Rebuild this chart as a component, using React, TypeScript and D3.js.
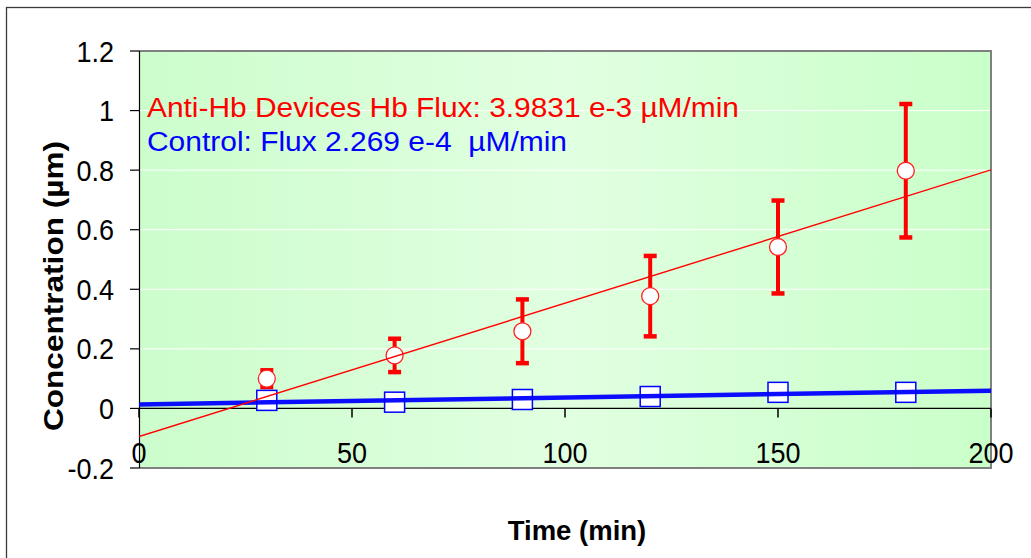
import React from 'react';
import * as d3 from 'd3';

// Sampling times (min)
const times = [30, 60, 90, 120, 150, 180];
// Anti-Hb device: mean concentration and error (µm)
const antiHbMean = [0.1, 0.178, 0.259, 0.377, 0.542, 0.798];
const antiHbErr = [0.028, 0.056, 0.107, 0.135, 0.156, 0.224];
// Control: mean concentration (µm)
const controlMean = [0.027, 0.021, 0.03, 0.04, 0.054, 0.054];

const xTicks = [0, 50, 100, 150, 200];
const yTicks = [-0.2, 0, 0.2, 0.4, 0.6, 0.8, 1, 1.2];
const yTickLabels = ['-0.2', '0', '0.2', '0.4', '0.6', '0.8', '1', '1.2'];

const antiHbLabel = 'Anti-Hb Devices Hb Flux: 3.9831 e-3 \u00B5M/min';
const controlLabel = 'Control: Flux 2.269 e-4  \u00B5M/min';
const xTitle = 'Time (min)';
const yTitle = 'Concentration (\u00B5m)';

const W = 1031;
const H = 558;
const plot = { left: 139, right: 991, top: 51, bottom: 468 };
const FONT = '"Liberation Sans", Arial, Helvetica, sans-serif';

// Ordinary least-squares fit y = a + b x
function linearFit(xs: number[], ys: number[]) {
  const mx = d3.mean(xs) as number;
  const my = d3.mean(ys) as number;
  let sxy = 0;
  let sxx = 0;
  xs.forEach((x, i) => {
    sxy += (x - mx) * (ys[i] - my);
    sxx += (x - mx) * (x - mx);
  });
  const b = sxy / sxx;
  return { a: my - b * mx, b };
}

export default function App() {
  const x = d3.scaleLinear().domain([0, 200]).range([plot.left, plot.right]);
  const y = d3.scaleLinear().domain([-0.2, 1.2]).range([plot.bottom, plot.top]);

  const redFit = linearFit(times, antiHbMean);
  const blueFit = linearFit(times, controlMean);
  const fitLine = (f: { a: number; b: number }) =>
    d3
      .line<number>()
      .x((t) => x(t))
      .y((t) => y(f.a + f.b * t))(x.domain()) as string;

  const sq = 20;
  const capW = 13;
  const capH = 4.5;

  return (
    <svg
      width={W}
      height={H}
      style={{ position: 'absolute', left: 0, top: 0, display: 'block' }}
      fontFamily={FONT}
    >
      <defs>
        <linearGradient id="plotBg" x1="0" y1="0" x2="1" y2="0">
          <stop offset="0" stopColor="#ccfdcc" />
          <stop offset="0.5" stopColor="#e1ffe1" />
          <stop offset="1" stopColor="#c9ffc9" />
        </linearGradient>
        <clipPath id="plotClip">
          <rect x={plot.left} y={plot.top} width={plot.right - plot.left} height={plot.bottom - plot.top} />
        </clipPath>
      </defs>

      <rect x={0} y={0} width={W} height={H} fill="#ffffff" />
      {/* chart frame */}
      <rect x={6.5} y={7.5} width={1100} height={700} fill="none" stroke="#3a3a3a" strokeWidth={1.3} />

      {/* plot area */}
      <rect
        x={plot.left}
        y={plot.top}
        width={plot.right - plot.left}
        height={plot.bottom - plot.top}
        fill="url(#plotBg)"
      />

      {/* gridlines */}
      {yTicks
        .filter((v) => v !== 0 && v !== -0.2 && v !== 1.2)
        .map((v) => (
          <line key={`g${v}`} x1={plot.left} x2={plot.right} y1={y(v)} y2={y(v)} stroke="#ffffff" strokeWidth={1} />
        ))}

      {/* plot border (top, right, bottom) */}
      <path
        d={`M${plot.left},${plot.top}H${plot.right}V${plot.bottom}H${plot.left}`}
        fill="none"
        stroke="#808080"
        strokeWidth={2}
      />

      {/* y axis */}
      <line x1={plot.left + 0.5} x2={plot.left + 0.5} y1={plot.top} y2={plot.bottom} stroke="#000" strokeWidth={1.2} />
      {yTicks.map((v, i) => (
        <g key={`yt${v}`}>
          <line x1={plot.left - 9} x2={plot.left} y1={y(v)} y2={y(v)} stroke="#000" strokeWidth={1.2} />
          <text
            transform={`translate(114,${y(v) + 10.5}) scale(1,1.09)`}
            textAnchor="end"
            fontSize={27}
            fill="#000"
          >
            {yTickLabels[i]}
          </text>
        </g>
      ))}

      {/* x axis at y = 0 */}
      <line x1={plot.left} x2={plot.right} y1={y(0)} y2={y(0)} stroke="#000" strokeWidth={1.2} />
      {xTicks.map((t) => (
        <g key={`xt${t}`}>
          <line x1={x(t)} x2={x(t)} y1={y(0)} y2={y(0) + 9} stroke="#000" strokeWidth={1.5} />
          <text transform={`translate(${x(t)},463) scale(1,1.09)`} textAnchor="middle" fontSize={27} fill="#000">
            {t}
          </text>
        </g>
      ))}

      <g clipPath="url(#plotClip)">
        {/* error bars */}
        {times.map((t, i) => {
          const hi = antiHbMean[i] + antiHbErr[i];
          const lo = antiHbMean[i] - antiHbErr[i];
          return (
            <g key={`eb${t}`} fill="#ff0000">
              <line x1={x(t)} x2={x(t)} y1={y(hi)} y2={y(lo)} stroke="#ff0000" strokeWidth={4} />
              <rect x={x(t) - capW / 2} y={y(hi) - capH / 2} width={capW} height={capH} />
              <rect x={x(t) - capW / 2} y={y(lo) - capH / 2} width={capW} height={capH} />
            </g>
          );
        })}

        {/* control markers */}
        {times.map((t, i) => (
          <rect
            key={`sq${t}`}
            x={x(t) - sq / 2}
            y={y(controlMean[i]) - sq / 2}
            width={sq}
            height={sq}
            fill="#ffffff"
            stroke="#0000ff"
            strokeWidth={1.5}
          />
        ))}

        {/* anti-Hb markers */}
        {times.map((t, i) => (
          <circle key={`c${t}`} cx={x(t)} cy={y(antiHbMean[i])} r={8.5} fill="#ffffff" stroke="#ff2020" strokeWidth={1.3} />
        ))}

        {/* linear trendlines */}
        <path d={fitLine(blueFit)} fill="none" stroke="#0000ff" strokeWidth={4.5} opacity={0.95} />
        <path d={fitLine(redFit)} fill="none" stroke="#ff0000" strokeWidth={1.4} />
      </g>

      {/* series annotations */}
      <text x={147} y={117} fontSize={27} fill="#ff0000" textLength={592} lengthAdjust="spacingAndGlyphs">
        {antiHbLabel}
      </text>
      <text
        x={147}
        y={151}
        fontSize={27}
        fill="#0000ff"
        textLength={420}
        lengthAdjust="spacingAndGlyphs"
        style={{ whiteSpace: 'pre' }}
      >
        {controlLabel}
      </text>

      {/* axis titles */}
      <text x={577} y={540} textAnchor="middle" fontSize={27.5} fontWeight="bold" fill="#000">
        {xTitle}
      </text>
      <text
        transform="translate(63,286) rotate(-90)"
        textAnchor="middle"
        fontSize={27}
        fontWeight="bold"
        fill="#000"
        textLength={290}
        lengthAdjust="spacingAndGlyphs"
      >
        {yTitle}
      </text>
    </svg>
  );
}
